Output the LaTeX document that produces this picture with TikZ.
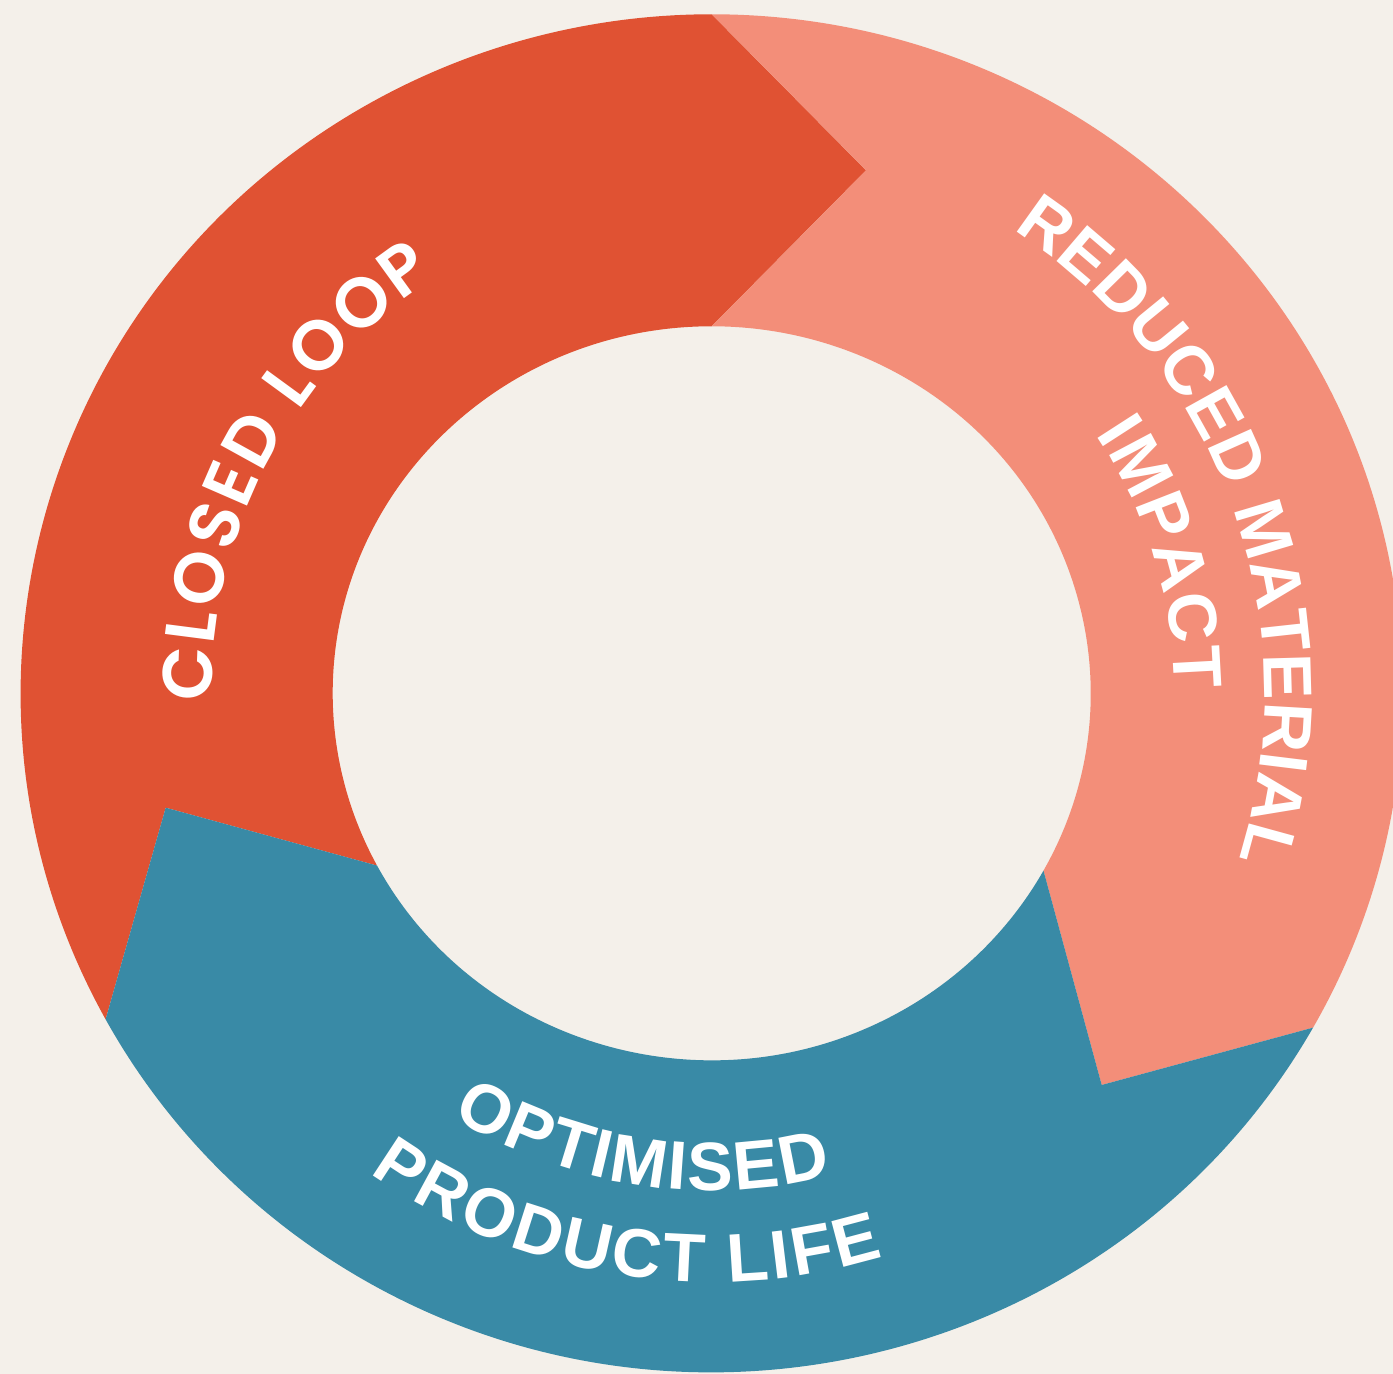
\documentclass[tikz,border=0pt]{standalone}
\usepackage{fontspec}
\setmainfont{Liberation Sans}
\newfontfamily\loopfont{Poppins SemiBold}
\usetikzlibrary{decorations.text}
\definecolor{bgcream}{RGB}{244,240,234}
\definecolor{loopred}{RGB}{224,82,51}
\definecolor{impactpink}{RGB}{243,142,121}
\definecolor{lifeteal}{RGB}{57,138,166}
\newcommand{\arialtext}{\bfseries\fontsize{19.5pt}{22pt}\selectfont\color{white}}
\newcommand{\looptext}{\loopfont\fontsize{20pt}{24pt}\selectfont\color{white}}
\begin{document}
\begin{tikzpicture}[x=0.01cm, y=0.01cm,
  ringlabel/.style={decorate, decoration={text along path, text align=fit to path, text={#1}}}]
	\useasboundingbox (-711.7,-680.7) rectangle (681.3,693.3);
	\fill[bgcream] (-711.7,-680.7) rectangle (681.3,693.3);
	\coordinate (tipR) at ( 154.3,  523.0);
	\coordinate (tipP) at ( 390.0, -391.7);
	\coordinate (tipT) at (-546.0, -114.4);
	\fill[loopred] (208.7:691 and 679) arc[start angle=208.7, end angle=90, x radius=691, y radius=679]
		-- (tipR) -- (90:379 and 367) arc[start angle=90, end angle=208, x radius=379, y radius=367]
		-- (tipT) -- cycle;
	\fill[impactpink] (90:691 and 679) arc[start angle=90, end angle=-29.5, x radius=691, y radius=679]
		-- (tipP) -- (-28.9:379 and 367) arc[start angle=-28.9, end angle=90, x radius=379, y radius=367]
		-- (tipR) -- cycle;
	\fill[lifeteal] (-29.5:691 and 679) arc[start angle=-29.5, end angle=-151.3, x radius=691, y radius=679]
		-- (tipT) -- (-152:379 and 367) arc[start angle=-152, end angle=-28.9, x radius=379, y radius=367]
		-- (tipP) -- cycle;
	\path[ringlabel={|\looptext|CLOSED LOOP}] (181:500) arc[start angle=181, end angle=123.5, radius=500];
	\path[ringlabel={|\arialtext|REDUCED MATERIAL}] (57:553) arc[start angle=57, end angle=-17.5, radius=553];
	\path[ringlabel={|\arialtext|IMPACT}] (34:463) arc[start angle=34, end angle=0.5, radius=463];
	\path[ringlabel={|\arialtext|OPTIMISED}] (238.5:497) arc[start angle=238.5, end angle=284, radius=497];
	\path[ringlabel={|\arialtext|PRODUCT LIFE}] (234.5:589) arc[start angle=234.5, end angle=287, radius=589];
\end{tikzpicture}
\end{document}
